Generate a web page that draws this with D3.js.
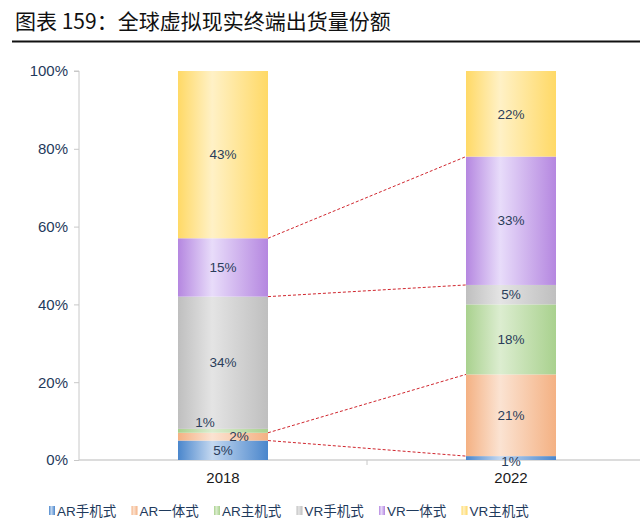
<!DOCTYPE html>
<html><head><meta charset="utf-8">
<script src="https://cdn.jsdelivr.net/npm/d3@7"></script>
<style>body{margin:0;background:#fff}svg{display:block;font-family:"Liberation Sans",Arial,"Noto Sans CJK SC",sans-serif}</style>
</head><body><svg id="c" width="640" height="532"></svg>
<script>
const title = "图表 159：全球虚拟现实终端出货量份额";
const years = ["2018", "2022"];
const seriesNames = ["AR手机式", "AR一体式", "AR主机式", "VR手机式", "VR一体式", "VR主机式"];
const values2018 = [5, 2, 1, 34, 15, 43];
const values2022 = [1, 21, 18, 5, 33, 22];
const yTicks = [0, 20, 40, 60, 80, 100];
const edgeColors = ["#4a86cc", "#f4b183", "#a9d18e", "#bfbfbf", "#b587e0", "#ffd966"];
const midColors = ["#c4d8f0", "#fbe3d2", "#dcedd0", "#e4e4e4", "#e8dcfa", "#fff1c6"];
const connectSeries = [0, 1, 3, 4];

const svg = d3.select("#c");
const valuesBy = [values2018, values2022];

svg.append("text").attr("x", 15).attr("y", 29).attr("font-size", 21)
  .attr("font-family", "'Noto Sans CJK SC','Liberation Sans',sans-serif")
  .attr("fill", "#111").text(title);
svg.append("line").attr("x1", 12).attr("x2", 640).attr("y1", 41.5).attr("y2", 41.5)
  .attr("stroke", "#111").attr("stroke-width", 2);

const x = d3.scaleBand().domain(years).range([79, 655]).padding(0);
const y = d3.scaleLinear().domain([0, 100]).range([460, 71]);
const barW = 90;

const defs = svg.append("defs");
seriesNames.forEach((s, i) => {
  const g = defs.append("linearGradient").attr("id", "g" + i).attr("x1", "0%").attr("x2", "100%").attr("y1", "0%").attr("y2", "0%");
  g.append("stop").attr("offset", "0%").attr("stop-color", edgeColors[i]);
  g.append("stop").attr("offset", "38%").attr("stop-color", midColors[i]);
  g.append("stop").attr("offset", "100%").attr("stop-color", edgeColors[i]);
});

const table = years.map((yr, k) => {
  const o = {year: yr};
  seriesNames.forEach((s, i) => o[s] = valuesBy[k][i]);
  return o;
});
const stacked = d3.stack().keys(seriesNames)(table);

// y axis
const yAxis = d3.axisLeft(y).tickValues(yTicks).tickFormat(d => d + "%").tickSize(5).tickPadding(6);
const ya = svg.append("g").attr("transform", "translate(79,0)").call(yAxis);
ya.select(".domain").attr("stroke", "#c8c8c8").attr("d", "M-5,71H0V460");
ya.selectAll(".tick line").attr("stroke", "#c8c8c8");
ya.selectAll(".tick text").attr("font-size", 15).attr("fill", "#1f3a5c")
  .attr("font-family", "'Liberation Sans',Arial,sans-serif");

// x axis
const xa = svg.append("g").attr("transform", "translate(0,460)")
  .call(d3.axisBottom(x).tickSize(0).tickPadding(12));
xa.select(".domain").attr("stroke", "#d0d0d0").attr("stroke-width", 1.5).attr("d", "M79,0H640");
xa.selectAll(".tick text").attr("font-size", 15).attr("fill", "#1a1a1a")
  .attr("font-family", "'Liberation Sans',Arial,sans-serif");
svg.append("line").attr("x1", 367).attr("x2", 367).attr("y1", 460).attr("y2", 465).attr("stroke", "#c8c8c8");

// bars
stacked.forEach((layer, i) => {
  svg.append("g").selectAll("rect").data(layer).join("rect")
    .attr("x", d => x(d.data.year) + x.bandwidth() / 2 - barW / 2)
    .attr("width", barW)
    .attr("y", d => y(d[1]))
    .attr("height", d => y(d[0]) - y(d[1]))
    .attr("fill", "url(#g" + i + ")");
});

// connector lines
connectSeries.forEach(i => {
  const a = stacked[i][0], b = stacked[i][1];
  svg.append("line")
    .attr("x1", x(years[0]) + x.bandwidth() / 2 + barW / 2).attr("y1", y(a[1]))
    .attr("x2", x(years[1]) + x.bandwidth() / 2 - barW / 2).attr("y2", y(b[1]))
    .attr("stroke", "#d0262e").attr("stroke-width", 1).attr("stroke-dasharray", "3,2");
});

// labels
const offsets = {"0-2": [-18, -9], "0-1": [16, 0], "1-0": [0, 3]};
stacked.forEach((layer, i) => {
  layer.forEach((d, k) => {
    const off = offsets[k + "-" + i] || [0, 0];
    svg.append("text")
      .attr("x", x(d.data.year) + x.bandwidth() / 2 + off[0])
      .attr("y", (y(d[0]) + y(d[1])) / 2 + off[1])
      .attr("dy", "0.35em").attr("text-anchor", "middle")
      .attr("font-size", 13.5).attr("fill", "#2a3d5a")
      .attr("font-family", "'Liberation Sans',Arial,sans-serif")
      .text(valuesBy[k][i] + "%");
  });
});

// legend
const lg = svg.append("g");
seriesNames.forEach((s, i) => {
  const lx = 49 + i * 82.5;
  lg.append("rect").attr("x", lx).attr("y", 506).attr("width", 6).attr("height", 9)
    .attr("fill", "url(#g" + i + ")");
  lg.append("text").attr("x", lx + 8).attr("y", 511).attr("dy", "0.35em")
    .attr("font-size", 13.5).attr("fill", "#1f3a5c")
    .attr("font-family", "'Liberation Sans','Noto Sans CJK SC',sans-serif").text(s);
});
</script></body></html>
